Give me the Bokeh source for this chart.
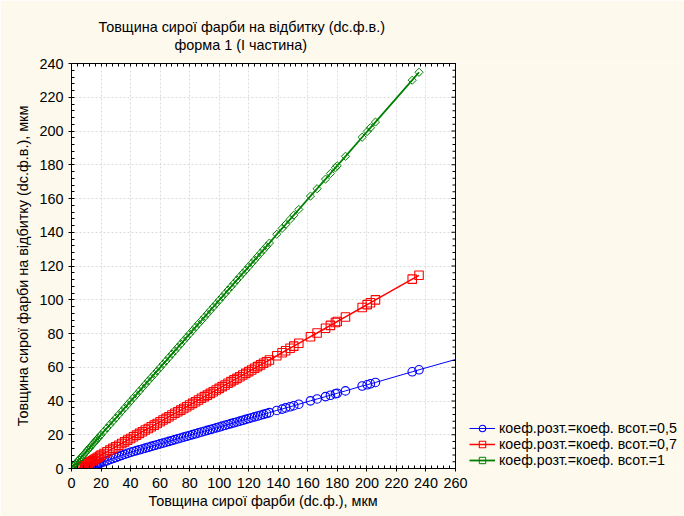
import math
from bokeh.plotting import figure
from bokeh.models import (Range1d, LinearAxis, SingleIntervalTicker, Legend, LegendItem,
                          Title, ColumnDataSource, Grid)
from bokeh.embed import file_html
from bokeh.resources import INLINE

NaN = float("nan")

# ---------------- data ----------------
x_vals = [0.5, 1, 1.5, 2, 2.5, 3, 4, 5, 6, 7, 8, 9, 10, 11, 12, 13, 14, 15, 16, 17, 18, 19, 20,
          22, 24, 26, 28, 30, 32, 34, 36, 38, 40, 42, 44, 46, 48, 50, 52, 54, 56, 58, 60,
          62, 64, 66, 68, 70, 72, 74, 76, 78, 80, 82, 84, 86, 88, 90, 92, 94, 96, 98, 100,
          102, 104, 106, 108, 110, 112, 114, 116, 118, 120, 122, 124, 126, 128, 130, 132, 134,
          139, 142.6, 145, 148, 150.5, 153.9, 161.8, 166.3, 172, 175.3, 178.7, 179.9, 185.5,
          196.8, 200.2, 202.4, 205.8, 230.7, 235.3]

y_05 = [NaN, NaN, NaN, NaN, NaN, NaN, NaN, NaN, NaN, NaN, NaN,
        0.0, 0.3, 0.6, 0.9, 1.2, 1.5, 1.8, 2.1, 2.4, 2.7, 3.0, 3.3,
        4.0, 4.6, 5.3, 5.9, 6.5, 7.2, 7.8, 8.4, 9.0, 9.6,
        10.1, 10.6, 11.1, 11.6, 12.1, 12.6, 13.1, 13.6, 14.1, 14.6,
        15.1, 15.6, 16.1, 16.6, 17.1, 17.6, 18.1, 18.6, 19.1, 19.6,
        20.1, 20.6, 21.1, 21.6, 22.1, 22.6, 23.1, 23.6, 24.1, 24.6,
        25.1, 25.6, 26.1, 26.6, 27.1, 27.6, 28.1, 28.6, 29.1, 29.6,
        30.1, 30.6, 31.1, 31.6, 32.1, 32.6, 33.1,
        34.4, 35.2, 35.9, 36.6, 37.2, 38.1, 40.1, 41.2, 42.6, 43.4, 44.3, 44.6, 46.0,
        48.9, 49.6, 50.2, 51.0, 57.3, 58.5]
# the fitted blue line continues to the right edge of the plot area
y_05_line_end_x = 260
y_05_line_end_y = 64.6

y_07 = [NaN, NaN, NaN, NaN, NaN, NaN, NaN,
        0.0, 0.5, 1.0, 1.5, 2.0, 2.5, 3.0, 3.5, 4.0, 4.5, 5.0, 5.6, 6.1, 6.7, 7.3, 7.9,
        8.9, 9.9, 10.9, 11.9, 12.9, 13.8, 14.8, 15.8, 16.8, 17.8,
        18.8, 19.8, 20.8, 21.8, 22.8, 23.7, 24.7, 25.7, 26.7, 27.7,
        28.7, 29.7, 30.7, 31.7, 32.7, 33.6, 34.6, 35.6, 36.6, 37.6,
        38.6, 39.6, 40.6, 41.6, 42.6, 43.5, 44.5, 45.5, 46.5, 47.5,
        48.5, 49.5, 50.5, 51.5, 52.5, 53.4, 54.4, 55.4, 56.4, 57.4,
        58.4, 59.4, 60.4, 61.4, 62.4, 63.3, 64.3,
        66.8, 68.6, 69.8, 71.3, 72.5, 74.2, 78.1, 80.3, 83.1, 84.8, 86.5, 87.1, 89.8,
        95.4, 97.1, 98.2, 99.9, 112.2, 114.5]

y_10 = [0.7, 1.2, 1.7, 2.2, 2.6, 3.1, 4.1, 5.1, 6.0, 7.0, 8.0, 9.0, 10.0, 11.0, 12.0, 13.0,
        14.0, 15.0, 16.0, 17.0, 18.0, 19.0, 20.0,
        22.0, 24.0, 26.0, 27.9, 29.9, 31.9, 33.9, 35.9, 37.9, 39.9,
        41.9, 43.9, 45.9, 47.9, 49.9, 51.9, 53.9, 55.8, 57.8, 59.8,
        61.8, 63.8, 65.8, 67.8, 69.8, 71.8, 73.8, 75.8, 77.8, 79.8,
        81.8, 83.8, 85.8, 87.7, 89.7, 91.7, 93.7, 95.7, 97.7, 99.7,
        101.7, 103.7, 105.7, 107.7, 109.7, 111.7, 113.7, 115.7, 117.6, 119.6,
        121.6, 123.6, 125.6, 127.6, 129.6, 131.6, 133.6,
        138.8, 142.3, 144.6, 147.6, 150.1, 153.5, 161.4, 165.8, 171.5, 174.8, 178.2, 179.4, 185.0,
        196.3, 199.7, 201.9, 205.3, 230.1, 234.8]

x_ticks = [0, 20, 40, 60, 80, 100, 120, 140, 160, 180, 200, 220, 240, 260]
y_ticks = [0, 20, 40, 60, 80, 100, 120, 140, 160, 180, 200, 220, 240]
n_minor = 5

labels = ["коеф.розт.=коеф. всот.=0,5",
          "коеф.розт.=коеф. всот.=0,7",
          "коеф.розт.=коеф. всот.=1"]
title_lines = ["Товщина сирої фарби на відбитку (dc.ф.в.)", "форма 1 (І частина)"]
x_label = "Товщина сирої фарби (dc.ф.), мкм"
y_label = "Товщина сирої фарби на відбитку (dc.ф.в.), мкм"

# ---------------- layout / styling ----------------
FONT = "Liberation Sans"
FS = "14.4px"
CREAM = "#FDF9ED"
BLUE, RED, GREEN = "#0000FF", "#FF0000", "#008000"

W, H = 684, 516
LEFT, TOP, BOTTOM = 71, 63, 48
PLOT_W = 384                     # pixel width of the 0..260 plot area
X0, X1 = x_ticks[0], x_ticks[-1]
Y0, Y1 = y_ticks[0], y_ticks[-1]
px_per_x = PLOT_W / (X1 - X0)
frame_w = W - LEFT
x_end = X0 + frame_w / px_per_x  # frame extends right to hold the legend

p = figure(width=W, height=H, output_backend="svg", toolbar_location=None,
           x_range=Range1d(X0, x_end), y_range=Range1d(Y0, Y1),
           x_axis_location=None, y_axis_location=None)
p.min_border_left = LEFT
p.min_border_right = 0
p.min_border_top = TOP
p.min_border_bottom = BOTTOM
p.background_fill_color = CREAM
p.border_fill_color = CREAM
p.outline_line_color = None
p.xgrid.visible = False
p.ygrid.visible = False

# white plot area
p.quad(left=[X0], right=[X1], bottom=[Y0], top=[Y1], fill_color="white",
       line_color=None, level="image")


def make_axis(ticks, show_labels, axis_label=None):
    ax = LinearAxis(ticker=SingleIntervalTicker(interval=20, num_minor_ticks=n_minor),
                    bounds=(ticks[0], ticks[-1]))
    ax.minor_tick_in = 3
    ax.minor_tick_out = 0
    ax.axis_line_color = "black"
    ax.major_tick_line_color = "black"
    ax.minor_tick_line_color = "black"
    ax.major_label_text_font = FONT
    ax.major_label_text_font_size = FS
    ax.major_label_text_color = "black"
    if show_labels:
        ax.major_tick_in = 0
        ax.major_tick_out = 3
    else:
        ax.major_tick_in = 0
        ax.major_tick_out = 11          # invisible spacer under the title
        ax.major_tick_line_alpha = 0
        ax.major_label_standoff = 0
        ax.major_label_overrides = {t: "" for t in ticks}
    if axis_label:
        ax.axis_label = axis_label
        ax.axis_label_text_font = FONT
        ax.axis_label_text_font_size = FS
        ax.axis_label_text_font_style = "normal"
        ax.axis_label_text_color = "black"
    return ax


xb = make_axis(x_ticks, True)
xb.major_label_standoff = 6
yl = make_axis(y_ticks, True, y_label)
yl.major_label_standoff = 5
yl.axis_label_standoff = 5
xt = make_axis(x_ticks, False)
p.add_layout(xb, "below")
p.add_layout(yl, "left")
p.add_layout(xt, "above")

# x-axis title, centred under the 0..260 plot area
xlab = Title(text=x_label, align="left", offset=77, text_font=FONT, text_font_size=FS,
             text_font_style="normal", text_color="black", standoff=5, vertical_align="top")
p.add_layout(xlab, "below")

for dim, ax in ((0, xb), (1, yl)):
    g = Grid(dimension=dim, ticker=ax.ticker, bounds=ax.bounds)
    g.grid_line_color = "#DADADA"
    g.grid_line_dash = "2 2"
    g.grid_line_width = 1
    p.add_layout(g, "center")

# cream area to the right of the plot (hides horizontal grid lines there)
p.quad(left=[X1], right=[x_end], bottom=[Y0], top=[Y1], fill_color=CREAM, line_color=None)

src = ColumnDataSource(dict(x=x_vals, y05=y_05, y07=y_07, y10=y_10))
line05_src = ColumnDataSource(dict(x=[v for v, y in zip(x_vals, y_05) if not math.isnan(y)] + [y_05_line_end_x],
                                   y=[y for y in y_05 if not math.isnan(y)] + [y_05_line_end_y]))
line07_src = ColumnDataSource(dict(x=[v for v, y in zip(x_vals, y_07) if not math.isnan(y)],
                                   y=[y for y in y_07 if not math.isnan(y)]))

l05 = p.line("x", "y", source=line05_src, line_color=BLUE, line_width=1)
s05 = p.scatter("x", "y05", source=src, marker="circle", size=8.5, fill_color=None,
                line_color=BLUE, line_width=1.1)
l07 = p.line("x", "y", source=line07_src, line_color=RED, line_width=1.5)
s07 = p.scatter("x", "y07", source=src, marker="square", size=8.5, fill_color=None,
                line_color=RED, line_width=1.1)
l10 = p.line("x", "y10", source=src, line_color=GREEN, line_width=1.8)
s10 = p.scatter("x", "y10", source=src, marker="square", angle=math.pi / 4, size=5.8,
                fill_color=None, line_color=GREEN, line_width=1)

# right border of the plot area with inward ticks
p.quad(left=[X0], right=[X1], bottom=[Y0], top=[Y1], fill_color=None,
       line_color="black", line_width=1, level="overlay")
minor_step = (y_ticks[1] - y_ticks[0]) / n_minor
tick_y = [Y0 + i * minor_step for i in range(int(round((Y1 - Y0) / minor_step)) + 1)]
tick_len = [(4 if abs(t % (y_ticks[1] - y_ticks[0])) < 1e-9 else 3) / px_per_x for t in tick_y]
p.segment(x0=[X1 - L for L in tick_len], x1=[X1] * len(tick_y), y0=tick_y, y1=tick_y,
          line_color="black", line_width=1, level="overlay")

legend = Legend(items=[LegendItem(label=labels[0], renderers=[l05, s05]),
                       LegendItem(label=labels[1], renderers=[l07, s07]),
                       LegendItem(label=labels[2], renderers=[l10, s10])],
                location=(398, 0))
legend.background_fill_alpha = 0
legend.border_line_alpha = 0
legend.label_text_font = FONT
legend.label_text_font_size = "14.2px"
legend.label_text_color = "black"
legend.padding = 0
legend.margin = 0
legend.spacing = 0
legend.glyph_width = 26
legend.glyph_height = 16
legend.label_height = 16
legend.label_standoff = 4
legend.label_text_baseline = "middle"
p.add_layout(legend, "center")

# two-line title (outer line added last)
t2 = Title(text=title_lines[1], align="left", offset=103, text_font=FONT,
           text_font_size=FS, text_font_style="normal", text_color="black", standoff=0)
t1 = Title(text=title_lines[0], align="left", offset=27, text_font=FONT,
           text_font_size=FS, text_font_style="normal", text_color="black", standoff=0)
p.add_layout(t2, "above")
p.add_layout(t1, "above")

open("out.html", "w").write(file_html(p, INLINE))
